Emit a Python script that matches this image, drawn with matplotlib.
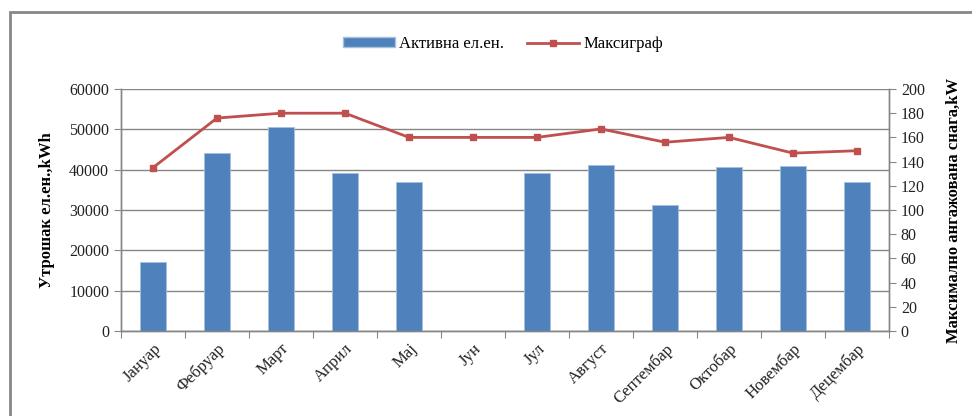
import matplotlib
matplotlib.use("Agg")
import matplotlib.pyplot as plt
from matplotlib.patches import Rectangle
from matplotlib.lines import Line2D
import numpy as np

plt.rcParams['font.family'] = ['Liberation Serif', 'DejaVu Serif']

months = ["Јануар", "Фебруар", "Март", "Април", "Мај", "Јун",
          "Јул", "Август", "Септембар", "Октобар", "Новембар", "Децембар"]
energy_kwh = [17200, 44200, 50600, 39100, 36850, 0,
              39100, 41250, 31350, 40700, 40900, 36850]
max_kw = [135, 176, 180, 180, 160, 160, 160, 167, 156, 160, 147, 149]

bar_color = "#4F81BD"
line_color = "#C0504D"
axis_gray = "#868686"
text_color = "#222222"

W, H = 972, 416
fig = plt.figure(figsize=(W / 100, H / 100), dpi=100)
ax = fig.add_axes([121 / W, 1 - 331 / H, (889 - 121) / W, (331 - 89) / H])
ax2 = ax.twinx()

x = np.arange(len(months))
ax.bar(x, energy_kwh, width=0.4, color=bar_color, edgecolor="#A7C0DE",
       linewidth=0.6, zorder=3)
ax2.plot(x, max_kw, color=line_color, linewidth=2, marker="s", markersize=5,
         zorder=4)

ax.set_xlim(-0.5, len(months) - 0.5)
ax.set_ylim(0, 60000)
ax.set_yticks(np.arange(0, 60001, 10000))
ax2.set_ylim(0, 200)
ax2.set_yticks(np.arange(0, 201, 20))

ax.yaxis.grid(True, color=axis_gray, linewidth=1, zorder=0)
ax.set_axisbelow(True)

# category boundaries carry the tick marks, month names sit between them
ax.set_xticks(np.arange(-0.5, len(months), 1))
ax.set_xticklabels([])
ax.set_xticks(x, minor=True)
ax.set_xticklabels(months, minor=True, rotation=45, ha="right",
                   rotation_mode="anchor", fontsize=12, color=text_color)
ax.tick_params(axis="x", which="minor", length=0, pad=7)
ax.tick_params(axis="x", which="major", length=5, color=axis_gray, direction="out")
ax.tick_params(axis="y", length=5, color=axis_gray, labelsize=11.5,
               labelcolor=text_color)
ax2.tick_params(axis="y", length=5, color=axis_gray, labelsize=11.5,
                labelcolor=text_color)

for a in (ax, ax2):
    a.spines["top"].set_visible(False)
    for s in ("left", "right", "bottom"):
        a.spines[s].set_color(axis_gray)
        a.spines[s].set_linewidth(1)

ax.set_ylabel("Утрошак ел.ен.,kWh", fontsize=12, fontweight="bold")
ax.yaxis.set_label_coords((55 - 121) / 768, 0.5)
ax2.set_ylabel("Максимално ангажована снага,kW", fontsize=12,
               fontweight="bold", rotation=90)
ax2.yaxis.set_label_coords((946 - 121) / 768, 0.5)

handles = [Rectangle((0, 0), 1, 1, facecolor=bar_color, edgecolor="#A7C0DE"),
           Line2D([0], [0], color=line_color, linewidth=2, marker="s", markersize=4)]
fig.legend(handles, ["Активна ел.ен.", "Максиграф"], loc="center",
           bbox_to_anchor=(503 / W, 1 - 44 / H), ncol=2, frameon=False,
           fontsize=12, handlelength=3.1, handleheight=0.55,
           handletextpad=0.25, columnspacing=1.4)

# chart-area border
fig.patches.append(Rectangle((9.5 / W, -0.1), 1.1, 1 - 11.5 / H + 0.1,
                             transform=fig.transFigure, fill=False,
                             edgecolor=axis_gray, linewidth=2))

fig.savefig("out.png", dpi=100)
